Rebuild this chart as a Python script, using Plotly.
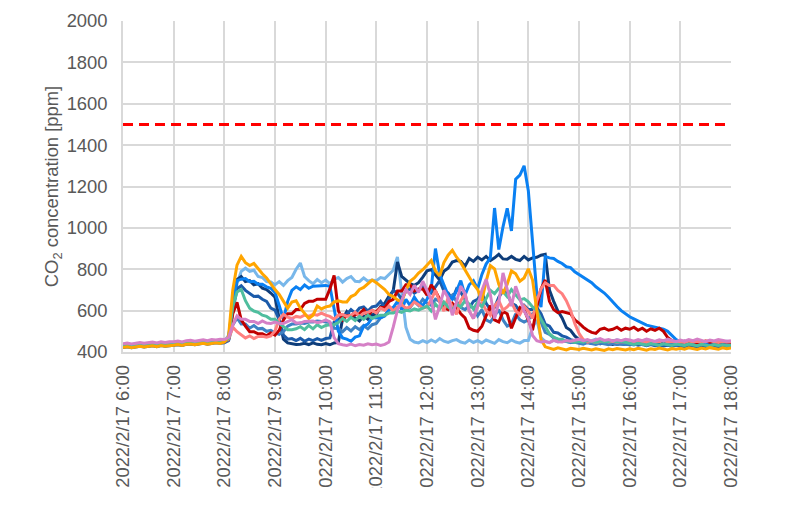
import pandas as pd
import plotly.graph_objects as go

times = pd.date_range("2022-02-17 06:00", "2022-02-17 18:00", freq="5min")

light_blue = [
432,434,431,435,437,434,436,438,436,439,437,440,
441,443,440,444,446,443,447,449,446,450,452,449,
452,480,610,730,790,805,790,795,765,760,740,738,
725,740,722,745,760,800,830,765,745,730,750,735,
748,730,752,760,738,755,765,742,740,758,742,748,
745,760,755,775,795,860,690,520,462,448,444,455,
446,458,448,465,452,446,455,460,448,443,458,446,
455,444,458,448,442,460,450,445,458,448,443,455,
455,520,555,470,450,446,457,449,460,450,445,456,
452,458,450,455,462,453,448,456,451,459,454,450,
455,448,456,451,460,453,449,457,452,447,455,450,
453,448,456,450,457,452,446,455,450,453,448,452,
450]

navy = [
425,428,424,429,431,427,430,433,430,434,431,435,
436,438,435,440,441,438,442,445,441,446,448,445,
448,460,620,750,765,740,745,725,730,708,702,685,
665,560,462,444,441,436,438,442,436,444,437,435,
441,435,444,446,560,595,570,565,550,575,558,580,
582,620,636,670,695,835,765,745,730,722,735,762,
792,798,770,748,790,805,835,842,838,815,852,838,
858,845,862,842,855,872,850,848,862,848,842,862,
845,855,858,868,872,700,645,598,565,518,505,478,
460,452,448,443,446,440,445,441,436,444,440,437,
442,438,445,436,441,447,439,435,443,438,440,436,
439,435,442,437,433,440,436,431,438,434,437,432,
435]

dark_blue = [
422,425,421,426,428,424,427,430,426,431,428,432,
433,435,432,437,438,435,439,442,438,443,445,442,
445,455,600,705,720,698,685,668,670,655,645,612,
602,555,482,462,465,455,466,452,462,455,465,456,
465,468,545,555,575,582,605,588,612,618,598,618,
622,645,615,655,698,685,655,695,705,685,698,725,
698,685,715,745,695,685,655,705,688,655,615,645,
655,688,635,605,615,665,695,685,635,625,595,625,
605,605,615,585,535,525,495,492,478,472,460,456,
450,445,448,442,446,440,444,438,442,436,440,437,
435,439,433,437,431,436,430,434,429,433,428,432,
430,426,432,428,424,430,427,423,429,425,428,424,
426]

steel_blue = [
424,427,423,428,430,426,429,432,428,433,430,434,
435,437,434,439,440,437,441,444,440,445,447,444,
447,455,530,565,535,535,515,528,512,514,500,505,
492,485,498,525,535,535,540,538,545,545,550,548,
545,542,515,514,498,518,502,522,508,528,512,532,
538,565,575,605,615,615,625,605,615,645,625,655,
635,625,655,645,605,655,675,645,615,605,625,615,
575,605,555,545,575,605,555,525,535,585,555,545,
555,585,595,545,495,485,468,462,452,452,446,447,
442,438,445,440,436,443,439,435,442,437,440,436,
438,434,441,436,432,439,435,431,438,434,437,433,
436,432,438,434,430,437,433,429,436,432,435,431,
433]

bright_blue = [
428,430,427,431,433,430,432,435,433,436,434,437,
438,440,437,441,443,440,444,446,443,447,449,446,
450,465,640,745,752,755,740,742,728,728,715,708,
688,625,558,645,698,715,702,724,708,718,720,722,
722,718,600,500,468,462,452,472,478,525,535,565,
565,565,575,605,615,645,605,655,625,665,635,625,
655,705,900,775,725,675,655,695,745,675,725,745,
705,775,825,855,1096,895,1005,1095,985,1235,1255,1300,
1180,926,685,617,862,855,852,838,828,812,808,788,
775,765,750,735,715,700,685,665,640,620,600,585,
570,560,550,540,530,525,520,515,510,500,480,460,
450,452,448,445,441,447,443,438,445,440,436,442,
438]

red = [
426,429,425,430,432,428,431,434,430,435,432,436,
437,439,436,441,442,439,443,446,442,447,449,446,
449,460,585,640,555,525,498,498,488,488,478,492,
482,505,555,585,585,605,605,635,645,645,655,655,
655,705,770,600,555,575,575,580,585,605,575,600,
595,615,615,645,655,695,695,725,725,695,705,705,
675,725,695,655,615,605,635,615,585,565,515,505,
500,525,575,625,555,545,595,585,515,565,615,605,
555,505,615,705,748,645,605,590,595,590,585,555,
540,520,505,495,490,510,515,505,510,520,505,515,
510,520,505,515,500,512,505,515,500,470,455,450,
448,452,446,450,444,449,453,447,451,445,450,448,
446]

salmon = [
430,433,429,434,436,432,435,438,434,439,436,440,
441,443,440,445,446,443,447,450,446,451,453,450,
452,462,520,498,482,468,478,465,475,476,472,478,
502,558,582,568,562,572,568,578,572,582,578,588,
578,572,558,578,582,572,578,592,572,588,592,602,
588,612,602,622,598,618,628,612,618,642,628,612,
618,652,698,642,598,662,618,582,648,682,598,562,
622,638,602,578,622,648,602,618,642,598,582,622,
598,562,648,705,735,722,722,698,682,648,602,538,
490,460,448,452,446,450,455,448,452,447,451,449,
452,447,455,450,446,453,448,451,455,449,452,447,
450,446,453,448,452,447,451,455,449,446,452,448,
450]

teal = [
427,430,426,431,433,429,432,435,431,436,433,437,
438,440,437,442,443,440,444,447,443,448,450,447,
450,465,620,690,702,648,612,598,592,578,572,558,
558,538,522,508,508,512,522,508,528,512,532,518,
528,532,532,542,562,548,568,552,572,558,578,562,
572,578,578,588,588,598,592,602,598,608,602,612,
622,598,632,608,642,618,602,632,618,648,632,608,
642,618,662,698,682,708,692,668,702,678,652,658,
642,618,602,558,522,488,472,462,462,452,452,446,
452,447,455,450,446,453,448,451,455,449,452,447,
440,436,442,438,434,441,437,433,440,436,432,438,
436,432,438,434,430,437,433,429,436,432,435,431,
433]

orange = [
422,425,421,426,428,424,427,430,426,431,428,432,
433,436,432,437,439,435,439,442,438,443,445,441,
448,475,700,820,862,832,818,828,802,778,758,728,
702,678,642,612,642,648,612,588,562,578,622,608,
618,622,642,648,642,642,668,678,702,712,732,748,
735,718,702,678,668,652,642,698,742,758,782,798,
822,842,792,768,832,868,892,858,832,798,762,728,
702,648,742,818,802,728,682,728,792,778,742,758,
802,748,602,460,425,418,412,420,415,410,418,414,
412,418,413,410,416,412,408,415,411,417,413,410,
415,411,418,413,409,416,412,419,414,410,417,413,
418,414,420,416,412,419,415,421,417,413,420,416,
419]

pink = [
440,443,439,444,446,442,445,448,444,449,446,450,
450,453,449,455,457,452,456,459,455,460,458,462,
460,470,530,575,558,558,548,548,538,550,540,538,
545,538,538,546,556,540,540,548,548,550,542,546,
555,546,470,440,435,432,438,430,436,433,440,435,
438,432,437,448,520,602,648,702,678,722,688,742,
698,652,558,622,698,662,578,642,718,682,598,562,
622,698,752,678,562,638,782,698,622,718,652,598,
562,480,455,448,452,445,456,450,448,455,452,458,
462,455,460,452,458,465,456,460,453,459,455,461,
458,452,460,455,463,457,451,459,454,462,456,450,
458,452,460,455,462,456,450,458,453,460,455,452,
455]

limit_value = [1500, 1500]
limit_times = ["2022-02-17 06:00", "2022-02-17 18:00"]

series = [
    ("light_blue", light_blue, "#78B7EA"),
    ("navy", navy, "#0E3D7A"),
    ("dark_blue", dark_blue, "#1B5BAA"),
    ("steel_blue", steel_blue, "#3E82C4"),
    ("bright_blue", bright_blue, "#0A80F2"),
    ("red", red, "#C00000"),
    ("salmon", salmon, "#FF7F7F"),
    ("teal", teal, "#4FBE9E"),
    ("orange", orange, "#FFA500"),
    ("pink", pink, "#D580C6"),
]

fig = go.Figure()
for name, vals, col in series:
    fig.add_trace(go.Scatter(x=times, y=vals, mode="lines", name=name,
                             line=dict(color=col, width=3)))
fig.add_trace(go.Scatter(x=limit_times, y=limit_value, mode="lines",
                         line=dict(color="#FF0000", width=3, dash="10px,6px")))

font = "Liberation Sans, Arial, sans-serif"
fs = 18.4
fig.update_layout(
    template="none",
    width=792, height=480,
    margin=dict(l=115, r=69, t=13, b=136, pad=0),
    paper_bgcolor="white", plot_bgcolor="white",
    showlegend=False,
    font=dict(family=font, size=fs, color="#595959"),
)
fig.update_xaxes(
    type="date", automargin=False,
    range=["2022-02-17 06:00", "2022-02-17 18:00"],
    tick0="2022-02-17 06:00", dtick=3600000,
    tickformat="%Y/%-m/%-d %-H:%M",
    tickangle=-90,
    showgrid=True, gridcolor="#D9D9D9", gridwidth=1.5,
    showline=True, linecolor="#D9D9D9", linewidth=1.5,
    zeroline=False,
    ticks="", ticklabelstandoff=4,
    tickfont=dict(size=fs, color="#595959"),
)
fig.update_yaxes(
    automargin=False,
    range=[400, 2000], dtick=200, tick0=400,
    showgrid=True, gridcolor="#D9D9D9", gridwidth=1.5,
    showline=True, linecolor="#D9D9D9", linewidth=1.5,
    zeroline=False,
    ticks="", ticklabelstandoff=10,
    tickfont=dict(size=fs, color="#595959"),
    title=dict(text="CO<sub>2</sub> concentration [ppm]", standoff=3,
               font=dict(size=fs, color="#595959")),
)

fig.write_html("out.html")
